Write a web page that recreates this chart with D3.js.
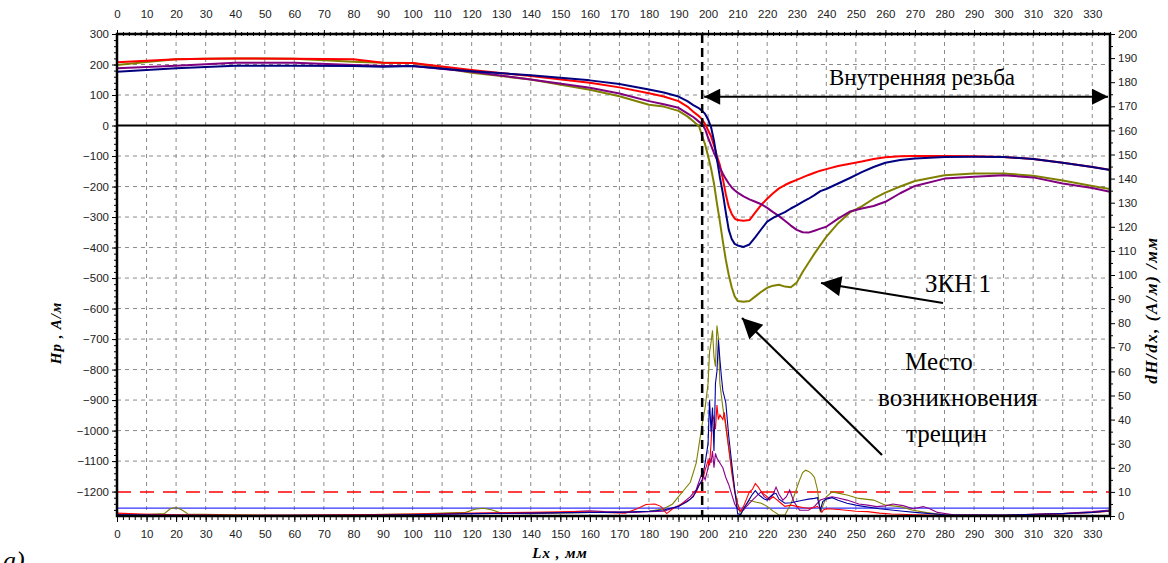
<!DOCTYPE html>
<html>
<head>
<meta charset="utf-8">
<script src="https://cdn.jsdelivr.net/npm/d3@7"></script>
<style>
  body { margin: 0; background: #fff; }
  svg { display: block; }
  .tick text { font-family: "Liberation Sans", Arial, sans-serif; font-size: 11.5px; fill: #222; }
  .serif { font-family: "Liberation Serif", "Times New Roman", serif; fill: #000; }
</style>
</head>
<body>
<div id="chart"></div>
<script>
// x positions (mm) shared by the four Hp curves
var lx = [0, 10, 20, 30, 40, 60, 80, 90, 100, 120, 140, 160, 170, 180, 185, 190, 193, 195, 197, 198, 199,
  200, 201, 202, 203, 204, 205, 206, 207, 208, 209, 210, 212, 214, 216, 218, 220, 222, 224, 226, 228,
  230, 232, 234, 236, 238, 240, 244, 248, 252, 256, 260, 265, 270, 280, 290, 300, 310, 320, 330, 336];

// Hp, A/m (left axis)
var hRed = [207, 212, 217, 219, 220, 219, 217, 206, 205, 182, 162, 140, 125, 106, 95, 80, 62, 45, 30, 20, 5,
  -15, -35, -65, -100, -130, -175, -225, -266, -290, -305, -310, -312, -310, -285, -260, -240, -222, -206, -195, -186,
  -178, -170, -162, -155, -148, -143, -133, -125, -118, -110, -104, -101, -100, -100, -101, -103, -110, -122, -136, -145];
var hBlue = [176, 182, 188, 192, 196, 196, 195, 193, 195, 178, 165, 148, 136, 118, 108, 95, 80, 67, 56, 48, 38,
  20, -5, -50, -110, -170, -222, -285, -342, -372, -388, -393, -398, -390, -366, -340, -315, -303, -293, -284, -272,
  -262, -250, -240, -228, -215, -208, -190, -172, -153, -136, -122, -113, -108, -103, -102, -103, -110, -122, -136, -146];
var hOlive = [198, 208, 217, 219, 220, 219, 209, 206, 205, 173, 151, 117, 96, 68, 62, 48, 30, 14, -3, -35, -62,
  -100, -140, -190, -255, -315, -380, -440, -490, -530, -560, -575, -578, -575, -560, -545, -532, -525, -522, -528, -530,
  -515, -480, -450, -420, -392, -365, -320, -285, -265, -240, -220, -200, -182, -163, -157, -157, -165, -180, -198, -208];
var hPurple = [188, 192, 196, 201, 206, 206, 198, 195, 195, 176, 151, 124, 105, 80, 70, 58, 40, 28, 12, 4, -12,
  -40, -65, -90, -112, -138, -158, -175, -190, -203, -212, -220, -232, -242, -250, -258, -270, -284, -297, -312, -328,
  -342, -350, -351, -345, -338, -332, -305, -282, -272, -264, -250, -222, -198, -174, -168, -163, -170, -190, -205, -217];

// dH/dx, (A/m)/mm (right axis) as [x, value]
var dRed = [[0,1.2],[8,0.8],[20,0.5],[40,0.3],[60,0.3],[80,0.5],[100,0.8],[120,1.2],[140,1.5],[155,1.8],[165,1.5],[172,1.2],
  [176,3],[179,4.8],[182,5],[184,4],[186,1],[188,3],[191,5],[194,7],[196,10],[197,13],[198,14],[199,19],[200,23],[200.5,21],
  [201,30],[201.5,42],[202,40],[202.5,36],[203,46],[203.5,40],[204,42],[205,40],[205.5,43],[206,38],[207,28],[208,18],[209,10],
  [210,5],[211,2],[212,4],[213,7],[214,10],[215,11],[216,13.5],[217,12],[218,10],[219,9],[220,8],[221,7],[222,8],[223,7],
  [224,6],[225,5],[226,4],[228,4.5],[230,4],[232,3.5],[234,3.2],[236,3.5],[237,4],[238,3],[238.5,1.5],[239,2.5],[240,3],
  [242,2.9],[246,2.5],[250,2],[254,1.8],[258,1.2],[262,0.8],[270,0.5],[280,0.3],[300,0.3],[320,1],[330,1.5],[336,2]];
var dBlue = [[0,0.5],[20,0.3],[40,0.2],[80,0.3],[100,0.5],[120,1],[140,1.2],[160,1.5],[170,1.5],[180,2],[185,2.5],[190,4],
  [193,6],[195,8],[197,13],[198,15],[199,22],[200,30],[200.5,48],[201,35],[201.5,45],[202,27],[202.5,55],[203,60],[203.5,73],
  [204,65],[204.5,58],[205,52],[206,47],[207,33],[208,22],[209,11],[210,1],[211,0.5],[212,3],[213,5],[214,7],[215,9],
  [216,10.5],[217,9],[218,8],[219,7],[220,6.6],[221,8],[222,9],[223,9.4],[224,7],[226,5.3],[228,5.5],[230,6],[232,6.5],
  [234,7],[236,7.3],[237,7.6],[238,2.5],[238.8,6],[240,7],[242,7.6],[244,6.5],[247,5.3],[250,4.5],[253,3.9],[258,3],
  [262,2.5],[266,2],[271,1.4],[280,0.5],[300,0.4],[320,1],[330,1.5],[336,2.2]];
var dOlive = [[0,0.8],[10,0.6],[16,1],[18,3],[20,3.5],[22,2.5],[24,0.8],[40,0.5],[60,0.3],[80,0.5],[100,0.8],[110,1.2],
  [118,1.5],[121,2.8],[124,3.2],[127,2.5],[130,1.2],[140,1],[160,1.5],[170,1.5],[180,2],[185,3],[188,5],[190,8],[192,11],
  [194,14],[196,22],[197,30],[198,38],[199,45],[200,55],[200.5,68],[201,72],[201.5,77],[202,66],[202.5,62],[203,79],
  [203.5,74],[204,55],[205,45],[206,37],[207,28],[208,20],[209,11],[210,5],[211,0.5],[212,3],[214,6.6],[216,5.8],[218,5.3],
  [220,4],[222,2],[224,0.4],[226,0.4],[228,5],[229,8],[231,15],[232,18],[233,19],[234,18.5],[235,17.6],[236,16],[237,11],
  [238,1.5],[240,8],[242,10],[244,9.5],[247,8.7],[251,7.3],[256,6.6],[260,4.5],[265,3.9],[269,2.5],[274,1.4],[280,0.5],
  [300,0.3],[320,0.8],[330,1.5],[336,2]];
var dPurple = [[0,0.5],[20,0.4],[40,0.3],[80,0.4],[100,0.6],[120,1],[140,1.2],[150,1.5],[156,2],[160,2.2],[165,1.8],[175,1.5],
  [180,1.8],[185,2],[190,4],[194,8],[196,11],[198,18],[199,15],[200,20],[200.5,24],[201,22],[201.5,27],[202,20],[202.5,26],
  [203,24],[204,22],[205,20],[206,16],[207,13],[208,9],[209,5],[210,3],[211,2],[212,2.5],[213,4],[215,6.6],[217,9],[218,10],
  [219,8],[220.7,6.6],[222,9],[223,12],[224,9],[225.3,6.6],[226.5,8],[227.6,10.8],[229,6],[231,2.4],[234,2.4],[236,4],
  [238,6.6],[240,7.5],[242,8],[244,7.5],[247,6.6],[251,5],[254,4.5],[257,3.9],[260,4.2],[262.5,5],[266,4.3],[269.4,3],
  [272.8,3.9],[275,3],[277.6,1.5],[283,0.5],[300,0.3],[320,1],[330,1.8],[336,2.5]];

// reference levels
var dThreshold = 10;   // red dashed, right axis
var dBase = 3.3;       // thin blue, right axis
var crackX = 198;      // black dashed vertical
var threadFrom = 198, threadTo = 336, threadLevel = 174;

var W = 1168, H = 563;
var pLeft = 117, pRight = 1110, pTop = 34, pBottom = 516;

var svg = d3.select("#chart").append("svg")
    .attr("width", W)
    .attr("height", H);

var x = d3.scaleLinear().domain([0, 336]).range([pLeft, pRight]);
var yL = d3.scaleLinear().domain([-1280, 300]).range([pBottom, pTop]);
var yR = d3.scaleLinear().domain([0, 200]).range([pBottom, pTop]);

var defs = svg.append("defs");
defs.append("clipPath").attr("id", "plot")
    .append("rect").attr("x", pLeft).attr("y", pTop)
    .attr("width", pRight - pLeft).attr("height", pBottom - pTop);

// arrowhead markers
function marker(id, w, h) {
    defs.append("marker")
        .attr("id", id)
        .attr("viewBox", "0 0 10 10")
        .attr("refX", 10).attr("refY", 5)
        .attr("markerWidth", w).attr("markerHeight", h)
        .attr("markerUnits", "userSpaceOnUse")
        .attr("orient", "auto-start-reverse")
        .append("path").attr("d", "M0,0 L10,5 L0,10 Z").attr("fill", "#000");
}
marker("arr", 24, 16);
marker("arrBig", 26, 20);

var xTicks = d3.range(0, 331, 10);
var yTicks = d3.range(-1200, 301, 100);

// grid
var grid = svg.append("g").attr("stroke", "#8a8a8a").attr("stroke-width", 1).attr("stroke-dasharray", "4,4");
grid.selectAll(".vg").data(xTicks.filter(function(d) { return d > 0; }))
  .enter().append("line")
    .attr("x1", function(d) { return x(d); }).attr("x2", function(d) { return x(d); })
    .attr("y1", pTop).attr("y2", pBottom);
grid.selectAll(".hg").data(yTicks.filter(function(d) { return d != 0 && d != -1200 && d != 300; }))
  .enter().append("line")
    .attr("x1", pLeft).attr("x2", pRight)
    .attr("y1", function(d) { return yL(d); }).attr("y2", function(d) { return yL(d); });

// axes
var fmt = d3.format("d");
function noDomain(g) { g.select(".domain").remove(); }
svg.append("g").attr("transform", "translate(0," + pBottom + ")")
    .call(d3.axisBottom(x).tickValues(xTicks).tickSize(6).tickPadding(8).tickFormat(fmt))
    .call(noDomain);
svg.append("g").attr("transform", "translate(0," + pBottom + ")")
    .call(d3.axisBottom(x).tickValues(d3.range(0, 337, 2)).tickSize(4).tickFormat(""))
    .call(noDomain);
svg.append("g").attr("transform", "translate(0," + pTop + ")")
    .call(d3.axisTop(x).tickValues(xTicks).tickSize(4).tickPadding(12).tickFormat(fmt))
    .call(noDomain);
svg.append("g").attr("transform", "translate(0," + (pTop + 2) + ")")
    .call(d3.axisTop(x).tickValues(d3.range(0, 337, 2)).tickSize(4).tickFormat(""))
    .call(noDomain);
svg.append("g").attr("transform", "translate(" + pLeft + ",0)")
    .call(d3.axisLeft(yL).tickValues(yTicks).tickSize(5).tickPadding(3).tickFormat(fmt))
    .call(noDomain);
svg.append("g").attr("transform", "translate(" + pLeft + ",0)")
    .call(d3.axisLeft(yL).tickValues(d3.range(-1260, 300, 20)).tickSize(3).tickFormat(""))
    .call(noDomain);
svg.append("g").attr("transform", "translate(" + pRight + ",0)")
    .call(d3.axisRight(yR).tickValues(d3.range(0, 201, 10)).tickSize(5).tickPadding(3).tickFormat(fmt))
    .call(noDomain);
svg.append("g").attr("transform", "translate(" + pRight + ",0)")
    .call(d3.axisRight(yR).tickValues(d3.range(5, 200, 10)).tickSize(3).tickFormat(""))
    .call(noDomain);

// reference lines
svg.append("line")
    .attr("x1", pLeft).attr("x2", pRight)
    .attr("y1", yR(dThreshold)).attr("y2", yR(dThreshold))
    .attr("stroke", "#ff0000").attr("stroke-width", 1.5).attr("stroke-dasharray", "14,9");
svg.append("line")
    .attr("x1", pLeft).attr("x2", pRight)
    .attr("y1", yR(dBase)).attr("y2", yR(dBase))
    .attr("stroke", "#3333ff").attr("stroke-width", 1.3);
svg.append("line")
    .attr("x1", pLeft).attr("x2", pRight)
    .attr("y1", yL(0)).attr("y2", yL(0))
    .attr("stroke", "#000").attr("stroke-width", 2);

var plot = svg.append("g").attr("clip-path", "url(#plot)");

// derivative curves (thin)
var dLine = d3.line()
    .x(function(d) { return x(d[0]); })
    .y(function(d) { return yR(d[1]); });
[[dOlive, "#808000"], [dPurple, "#8b008b"], [dRed, "#ff0000"], [dBlue, "#0000a0"]].forEach(function(s) {
    plot.append("path").datum(s[0])
        .attr("fill", "none").attr("stroke", s[1]).attr("stroke-width", 1.1)
        .attr("d", dLine);
});

// Hp curves (thick)
var hLine = d3.line()
    .x(function(d, i) { return x(lx[i]); })
    .y(function(d) { return yL(d); });
[[hOlive, "#808000"], [hRed, "#ff0000"], [hPurple, "#800080"], [hBlue, "#000080"]].forEach(function(s) {
    plot.append("path").datum(s[0])
        .attr("fill", "none").attr("stroke", s[1]).attr("stroke-width", 2)
        .attr("stroke-linejoin", "round")
        .attr("d", hLine);
});

// crack position
svg.append("line")
    .attr("x1", x(crackX)).attr("x2", x(crackX))
    .attr("y1", pTop).attr("y2", pBottom)
    .attr("stroke", "#000").attr("stroke-width", 2.5).attr("stroke-dasharray", "9,5");

// frame
svg.append("rect")
    .attr("x", pLeft).attr("y", pTop)
    .attr("width", pRight - pLeft).attr("height", pBottom - pTop)
    .attr("fill", "none").attr("stroke", "#000").attr("stroke-width", 2.5);

// annotations
svg.append("line")
    .attr("x1", x(threadFrom) + 2).attr("x2", x(threadTo) - 2)
    .attr("y1", yR(threadLevel)).attr("y2", yR(threadLevel))
    .attr("stroke", "#000").attr("stroke-width", 2)
    .attr("marker-start", "url(#arr)").attr("marker-end", "url(#arr)");

svg.append("text").attr("class", "serif")
    .attr("x", 922).attr("y", 85).attr("text-anchor", "middle")
    .style("font-size", "23px").text("Внутренняя резьба");

svg.append("text").attr("class", "serif")
    .attr("x", 925).attr("y", 292)
    .style("font-size", "25px").text("ЗКН 1");
svg.append("line")
    .attr("x1", 943).attr("y1", 303).attr("x2", 821).attr("y2", 283)
    .attr("stroke", "#000").attr("stroke-width", 2.2)
    .attr("marker-end", "url(#arrBig)");

var crackText = ["Место", "возникновения", "трещин"];
svg.append("g").selectAll("text").data(crackText).enter().append("text")
    .attr("class", "serif")
    .attr("x", function(d, i) { return [905, 878, 906][i]; })
    .attr("y", function(d, i) { return 370 + i * 36; })
    .style("font-size", "25px")
    .text(function(d) { return d; });
svg.append("line")
    .attr("x1", 882).attr("y1", 455).attr("x2", 742).attr("y2", 318)
    .attr("stroke", "#000").attr("stroke-width", 2.2)
    .attr("marker-end", "url(#arrBig)");

// axis titles
svg.append("text").attr("class", "serif")
    .attr("transform", "translate(61,333) rotate(-90)")
    .attr("text-anchor", "middle")
    .style("font-size", "15px").style("font-style", "italic").style("font-weight", "bold")
    .style("letter-spacing", "1px")
    .text("Hp , A/м");
svg.append("text").attr("class", "serif")
    .attr("transform", "translate(1157,310) rotate(-90)")
    .attr("text-anchor", "middle")
    .style("font-size", "17px").style("font-style", "italic").style("font-weight", "bold")
    .style("letter-spacing", "1.5px")
    .text("dH/dx,  (A/м) /мм");
svg.append("text").attr("class", "serif")
    .attr("x", 560).attr("y", 558).attr("text-anchor", "middle")
    .style("font-size", "15px").style("font-style", "italic").style("font-weight", "bold")
    .style("letter-spacing", "1px")
    .text("Lx , мм");
svg.append("text").attr("class", "serif")
    .attr("x", 3).attr("y", 569)
    .style("font-size", "26px").style("font-style", "italic")
    .text("а)");
</script>
</body>
</html>
